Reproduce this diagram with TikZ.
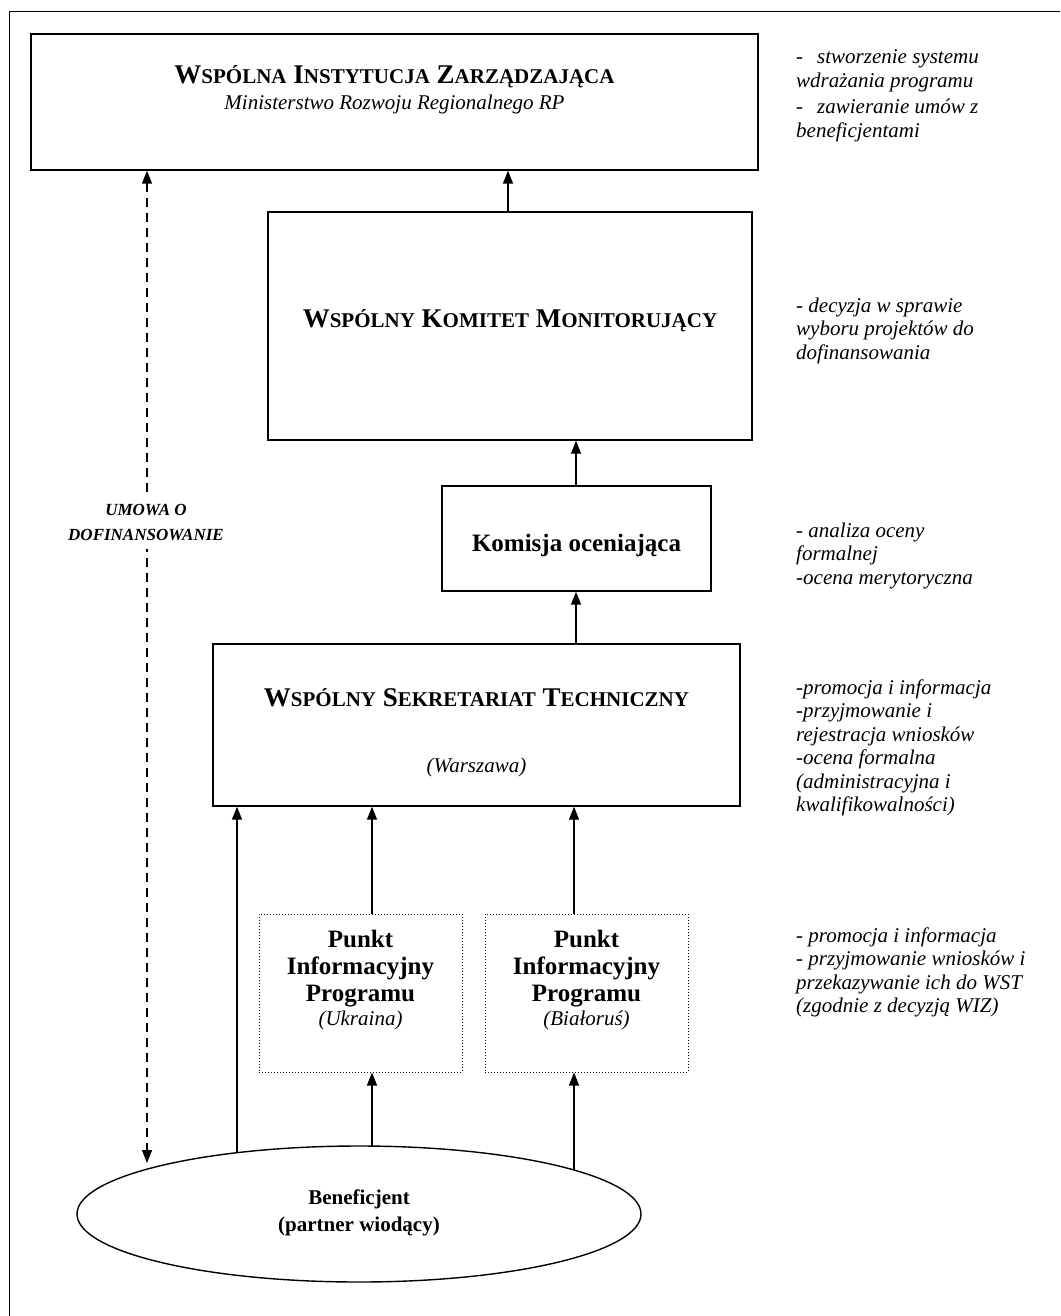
\documentclass[tikz,border=0pt]{standalone}
\usepackage{fontspec}
\setmainfont{Liberation Serif}
\usetikzlibrary{arrows.meta,shapes.geometric}
\newcommand{\fsc}[2]{#1{\fontsize{21}{21}\selectfont #2}}
\begin{document}
\begin{tikzpicture}[x=1pt,y=-1pt,
  box/.style={draw,line width=1.4pt,inner sep=0pt},
  dotbox/.style={draw,dotted,line width=1pt,inner sep=0pt},
  arr/.style={-{Triangle[width=10pt,length=13pt]},line width=1.4pt},
  dasharr/.style={{Triangle[width=10pt,length=13pt]}-{Triangle[width=10pt,length=13pt]},line width=1.4pt,dash pattern=on 9pt off 6pt},
  ttl/.style={font=\bfseries\fontsize{27}{27}\selectfont,anchor=base,inner sep=0pt},
  btx/.style={font=\bfseries\fontsize{25}{27}\selectfont,align=center,inner sep=0pt},
  itx/.style={font=\itshape\fontsize{21}{23}\selectfont,inner sep=0pt},
  rtx/.style={font=\itshape\fontsize{21}{23.5}\selectfont,anchor=base west,inner sep=0pt}
]
\useasboundingbox (0,0) rectangle (1060,1316);
\draw[line width=1.4pt] (9.5,1316) -- (9.5,11.5) -- (1060,11.5);

% boxes
\node[box,minimum width=727pt,minimum height=136pt] (wiz) at (394.5,102) {};
\node[ttl] (wizt) at (394.5,84) {\fsc{W}{SPÓLNA} \fsc{I}{NSTYTUCJA} \fsc{Z}{ARZĄDZAJĄCA}};
\node[itx,anchor=base] (wizs) at (394.5,110) {Ministerstwo Rozwoju Regionalnego RP};

\node[box,minimum width=484pt,minimum height=228pt] (wkm) at (510,326) {};
\node[ttl] (wkmt) at (510,327) {\fsc{W}{SPÓLNY} \fsc{K}{OMITET} \fsc{M}{ONITORUJĄCY}};

\node[box,minimum width=269pt,minimum height=105pt] (kom) at (576.5,538.5) {};
\node[btx,anchor=base] (komt) at (576.5,551) {Komisja oceniająca};

\node[box,minimum width=527pt,minimum height=162pt] (wst) at (476.5,725) {};
\node[ttl] (wstt) at (476.5,706) {\fsc{W}{SPÓLNY} \fsc{S}{EKRETARIAT} \fsc{T}{ECHNICZNY}};
\node[itx,anchor=base] (wsts) at (476.5,772) {(Warszawa)};

\node[dotbox,minimum width=203pt,minimum height=158pt] (ukr) at (360.5,993) {};
\node[btx,anchor=north] (ukrt) at (360.5,930) {Punkt\\Informacyjny\\Programu\\[-3pt]{\mdseries\itshape\fontsize{21}{23}\selectfont (Ukraina)}};

\node[dotbox,minimum width=203pt,minimum height=158pt] (bia) at (586.5,993) {};
\node[btx,anchor=north] (biat) at (586.5,930) {Punkt\\Informacyjny\\Programu\\[-3pt]{\mdseries\itshape\fontsize{21}{23}\selectfont (Białoruś)}};

\node[draw,ellipse,line width=1.4pt,minimum width=564pt,minimum height=136pt,inner sep=0pt] (ben) at (359,1214) {};
\node[font=\bfseries\fontsize{21}{27}\selectfont,align=center,inner sep=0pt] (bent) at (359,1213) {Beneficjent\\(partner wiodący)};

% connector end points on the ellipse
\coordinate (e1) at (237,1153);
\coordinate (e2) at (372,1146.5);
\coordinate (e3) at (574,1170);
\coordinate (e0) at (147,1163);

% arrows
\draw[arr] (wkm.north -| 508,0) -- (wiz.south -| 508,0);
\draw[arr] (kom.north -| 576,0) -- (wkm.south -| 576,0);
\draw[arr] (wst.north -| 576,0) -- (kom.south -| 576,0);
\draw[arr] (e1) -- (wst.south -| e1);
\draw[arr] (ukr.north -| 372,0) -- (wst.south -| 372,0);
\draw[arr] (bia.north -| 574,0) -- (wst.south -| 574,0);
\draw[arr] (e2) -- (ukr.south -| e2);
\draw[arr] (e3) -- (bia.south -| e3);
\draw[dasharr] (wiz.south -| e0) -- (e0);

\node[font=\bfseries\itshape\fontsize{17}{25}\selectfont,align=center,fill=white,inner xsep=2pt,inner ysep=9pt] (umowa) at (146,522) {UMOWA O\\DOFINANSOWANIE};

% right-hand notes
\node[rtx] (n1) at (796,64) {\parbox[t]{260pt}{\raggedright -\hspace{14pt}stworzenie systemu\\ wdrażania programu\\[3pt] -\hspace{14pt}zawieranie umów z\\ beneficjentami}};
\node[rtx] (n2) at (796,312) {\parbox[t]{260pt}{\raggedright - decyzja w sprawie\\ wyboru projektów do\\ dofinansowania}};
\node[rtx] (n3) at (796,537) {\parbox[t]{260pt}{\raggedright - analiza oceny\\ formalnej\\ -ocena merytoryczna}};
\node[rtx] (n4) at (796,694) {\parbox[t]{260pt}{\raggedright -promocja i informacja\\ -przyjmowanie i\\ rejestracja wniosków\\ -ocena formalna\\ (administracyjna i\\ kwalifikowalności)}};
\node[rtx] (n5) at (796,942) {\parbox[t]{260pt}{\raggedright - promocja i informacja\\ - przyjmowanie wniosków i\\ przekazywanie ich do WST\\ (zgodnie z decyzją WIZ)}};
\end{tikzpicture}
\end{document}
